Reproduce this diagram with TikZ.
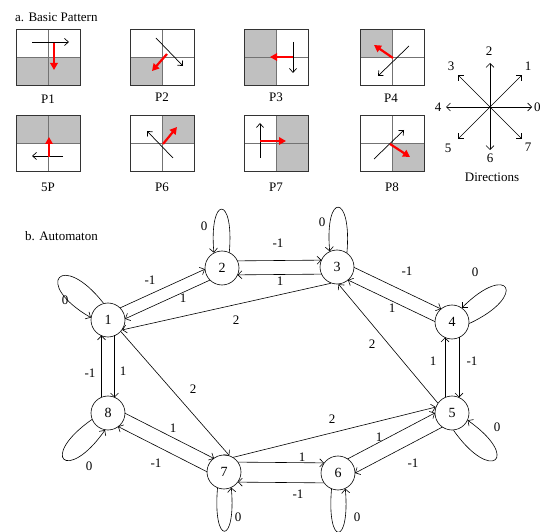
\documentclass[tikz,border=0pt]{standalone}
\usepackage{fontspec}
\setmainfont{Liberation Serif}
\usetikzlibrary{arrows.meta,calc}
\definecolor{boxgray}{RGB}{192,192,192}
\begin{document}
\begin{tikzpicture}[x=1pt,y=-1pt,
  lab/.style={font=\fontsize{13}{13}\selectfont, inner sep=0pt},
  st/.style={circle, draw, minimum size=34pt, inner sep=0pt, font=\fontsize{14}{14}\selectfont, line width=0.6pt},
  ar/.style={-{Straight Barb[length=4pt,width=8pt]}, line width=0.6pt},
  bk/.style={-{Straight Barb[length=4pt,width=7pt]}, line width=0.7pt},
  rd/.style={-{Triangle[length=7pt,width=7.5pt]}, line width=2.2pt, red},
  innerl/.style={draw=black!55, line width=1pt},
  outerl/.style={draw=black!80, line width=1pt},
]
\useasboundingbox (0,0) rectangle (542,532);

% ---------- a. Basic Pattern ----------
\node[lab, anchor=west] (ta) at (15,17) {a. Basic Pattern};

% P1
\begin{scope}[shift={(16,30)}]
  \fill[boxgray] (0,28) rectangle (64,56);
  \draw[innerl] (32,0) -- (32,56) (0,28) -- (64,28);
  \draw[outerl] (0,0) rectangle (64,56);
  \draw[bk] (16,12) -- (53,12);
  \draw[rd] (38,13) -- (38,40);
\end{scope}
\node[lab] (p1) at (48,99) {P1};

% P2
\begin{scope}[shift={(130,30)}]
  \fill[boxgray] (0,28) rectangle (32,56);
  \draw[innerl] (32,0) -- (32,56) (0,28) -- (64,28);
  \draw[outerl] (0,0) rectangle (64,56);
  \draw[bk] (26,8) -- (53,36);
  \draw[rd] (37,24) -- (22,41);
\end{scope}
\node[lab] (p2) at (162,97) {P2};

% P3
\begin{scope}[shift={(244,30)}]
  \fill[boxgray] (0,0) rectangle (32,56);
  \draw[innerl] (32,0) -- (32,56) (0,28) -- (64,28);
  \draw[outerl] (0,0) rectangle (64,56);
  \draw[bk] (49,12) -- (49,43);
  \draw[rd] (49,27) -- (26,27);
\end{scope}
\node[lab] (p3) at (276,97) {P3};

% P4
\begin{scope}[shift={(360,30)}]
  \fill[boxgray] (0,0) rectangle (32,28);
  \draw[innerl] (32,0) -- (32,56) (0,28) -- (64,28);
  \draw[outerl] (0,0) rectangle (64,56);
  \draw[bk] (49,16) -- (18,46);
  \draw[rd] (33,28) -- (14,15);
\end{scope}
\node[lab] (p4) at (391,98) {P4};

% 5P
\begin{scope}[shift={(16,116)}]
  \fill[boxgray] (0,0) rectangle (64,28);
  \draw[innerl] (32,0) -- (32,56) (0,28) -- (64,28);
  \draw[outerl] (0,0) rectangle (64,56);
  \draw[bk] (47,40) -- (16,40);
  \draw[rd] (33,41) -- (33,21);
\end{scope}
\node[lab] (p5) at (48,187) {5P};

% P6
\begin{scope}[shift={(130,116)}]
  \fill[boxgray] (32,0) rectangle (64,28);
  \draw[innerl] (32,0) -- (32,56) (0,28) -- (64,28);
  \draw[outerl] (0,0) rectangle (64,56);
  \draw[bk] (43,42) -- (17,15);
  \draw[rd] (33,28) -- (47,11);
\end{scope}
\node[lab] (p6) at (162,187) {P6};

% P7
\begin{scope}[shift={(244,116)}]
  \fill[boxgray] (32,0) rectangle (64,56);
  \draw[innerl] (32,0) -- (32,56) (0,28) -- (64,28);
  \draw[outerl] (0,0) rectangle (64,56);
  \draw[bk] (16,42) -- (16,7);
  \draw[rd] (16,25) -- (42,25);
\end{scope}
\node[lab] (p7) at (276,187) {P7};

% P8
\begin{scope}[shift={(360,116)}]
  \fill[boxgray] (32,28) rectangle (64,56);
  \draw[innerl] (32,0) -- (32,56) (0,28) -- (64,28);
  \draw[outerl] (0,0) rectangle (64,56);
  \draw[bk] (14,43) -- (44,14);
  \draw[rd] (30,28) -- (50,41);
\end{scope}
\node[lab] (p8) at (392,187) {P8};

% Directions
\coordinate (dc) at (490,107);
\coordinate (e0) at (532,107);
\coordinate (e1) at (522,75);
\coordinate (e2) at (490,63);
\coordinate (e3) at (458,75);
\coordinate (e4) at (446,107);
\coordinate (e5) at (458,139);
\coordinate (e6) at (490,150);
\coordinate (e7) at (522,139);
\foreach \e in {e0,e1,e2,e3,e4,e5,e6,e7} \draw[ar] (dc) -- (\e);
\fill (dc) circle (1.2pt);
\node[lab, anchor=west] (d0) at (534,107) {0};
\node[lab] (d1) at (528,66) {1};
\node[lab] (d2) at (489,51) {2};
\node[lab] (d3) at (451,66) {3};
\node[lab] (d4) at (438,107) {4};
\node[lab] (d5) at (448,148) {5};
\node[lab] (d6) at (490,158) {6};
\node[lab] (d7) at (528,147) {7};
\node[lab] (dir) at (492,177) {Directions};

% ---------- b. Automaton ----------
\node[lab, anchor=west] (tb) at (25,236) {b. Automaton};

\node[st] (n1) at (108,320) {1};
\node[st] (n2) at (222,268) {2};
\node[st] (n3) at (337,267) {3};
\node[st] (n4) at (452,322) {4};
\node[st] (n5) at (452,413) {5};
\node[st] (n6) at (338,473) {6};
\node[st] (n7) at (224,472) {7};
\node[st] (n8) at (108,413) {8};

% two-way edges (each on its own left side)
\draw[ar, shorten <=16pt, shorten >=16pt] ($(n1)!6pt!90:(n2)$) -- ($(n2)!6pt!-90:(n1)$);
\draw[ar, shorten <=16pt, shorten >=16pt] ($(n2)!6pt!90:(n1)$) -- ($(n1)!6pt!-90:(n2)$);
\draw[ar, shorten <=15.5pt, shorten >=15.5pt] ($(n2)!7pt!90:(n3)$) -- ($(n3)!7pt!-90:(n2)$);
\draw[ar, shorten <=15.5pt, shorten >=15.5pt] ($(n3)!7pt!90:(n2)$) -- ($(n2)!7pt!-90:(n3)$);
\draw[ar, shorten <=15.5pt, shorten >=15.5pt] ($(n3)!7pt!90:(n4)$) -- ($(n4)!7pt!-90:(n3)$);
\draw[ar, shorten <=15.5pt, shorten >=15.5pt] ($(n4)!7pt!90:(n3)$) -- ($(n3)!7pt!-90:(n4)$);
\draw[ar, shorten <=15.5pt, shorten >=15.5pt] ($(n4)!7pt!90:(n5)$) -- ($(n5)!7pt!-90:(n4)$);
\draw[ar, shorten <=15.5pt, shorten >=15.5pt] ($(n5)!7pt!90:(n4)$) -- ($(n4)!7pt!-90:(n5)$);
\draw[ar, shorten <=15pt, shorten >=15pt] ($(n5)!8pt!90:(n6)$) -- ($(n6)!8pt!-90:(n5)$);
\draw[ar, shorten <=15pt, shorten >=15pt] ($(n6)!8pt!90:(n5)$) -- ($(n5)!8pt!-90:(n6)$);
\draw[ar, shorten <=14pt, shorten >=14pt] ($(n6)!10pt!90:(n7)$) -- ($(n7)!10pt!-90:(n6)$);
\draw[ar, shorten <=14pt, shorten >=14pt] ($(n7)!10pt!90:(n6)$) -- ($(n6)!10pt!-90:(n7)$);
\draw[ar, shorten <=15pt, shorten >=15pt] ($(n7)!7.5pt!90:(n8)$) -- ($(n8)!7.5pt!-90:(n7)$);
\draw[ar, shorten <=15pt, shorten >=15pt] ($(n8)!7.5pt!90:(n7)$) -- ($(n7)!7.5pt!-90:(n8)$);
\draw[ar, shorten <=15.5pt, shorten >=15.5pt] ($(n8)!6.5pt!90:(n1)$) -- ($(n1)!6.5pt!-90:(n8)$);
\draw[ar, shorten <=15.5pt, shorten >=15.5pt] ($(n1)!6.5pt!90:(n8)$) -- ($(n8)!6.5pt!-90:(n1)$);

% weight-2 edges
\draw[ar] (n3.250) -- (n1.-35);
\draw[ar] (n1.-42) -- (n7.72);
\draw[ar] (n5.145) -- (n3.275);
\draw[ar] (n7.58) -- (n5.160);

% self loops
\draw[ar] (n1.105) .. controls +(128:68pt) and +(150:68pt) .. (n1.172);
\draw[ar] (n2.65) .. controls +(85:58pt) and +(95:58pt) .. (n2.118);
\draw[ar] (n3.55) .. controls +(85:60pt) and +(95:60pt) .. (n3.115);
\draw[ar] (n4.-5) .. controls +(25:66pt) and +(45:66pt) .. (n4.55);
\draw[ar] (n5.-85) .. controls +(-55:66pt) and +(-35:66pt) .. (n5.-25);
\draw[ar] (n6.-112) .. controls +(-95:58pt) and +(-85:58pt) .. (n6.-65);
\draw[ar] (n7.-112) .. controls +(-95:58pt) and +(-85:58pt) .. (n7.-65);
\draw[ar] (n8.-158) .. controls +(-145:66pt) and +(-125:66pt) .. (n8.-100);

% labels
\node[lab] (l12) at (150,280) {-1};
\node[lab] (l21) at (183,298) {1};
\node[lab] (l23) at (278,243) {-1};
\node[lab] (l32) at (280,281) {1};
\node[lab] (l34) at (407,271) {-1};
\node[lab] (l43) at (392,308) {1};
\node[lab] (l54) at (433,361) {1};
\node[lab] (l45) at (472,361) {-1};
\node[lab] (l65) at (379,437) {1};
\node[lab] (l56) at (413,463) {-1};
\node[lab] (l76) at (302,457) {1};
\node[lab] (l67) at (298,494) {-1};
\node[lab] (l87) at (173,428) {1};
\node[lab] (l78) at (156,463) {-1};
\node[lab] (l81) at (90,373) {-1};
\node[lab] (l18) at (123,371) {1};
\node[lab] (l31) at (236,320) {2};
\node[lab] (l17) at (193,389) {2};
\node[lab] (l53) at (372,344) {2};
\node[lab] (l75) at (332,419) {2};
\node[lab] (o1) at (65,300) {0};
\node[lab] (o2) at (204,226) {0};
\node[lab] (o3) at (322,222) {0};
\node[lab] (o4) at (475,272) {0};
\node[lab] (o5) at (497,427) {0};
\node[lab] (o6) at (357,517) {0};
\node[lab] (o7) at (238,517) {0};
\node[lab] (o8) at (89,466) {0};
\end{tikzpicture}
\end{document}
